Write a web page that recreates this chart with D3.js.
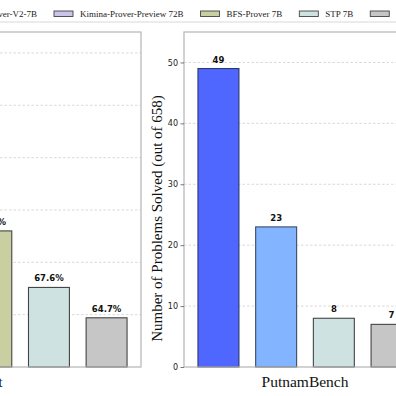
<!DOCTYPE html>
<html><head><meta charset="utf-8">
<script src="https://cdn.jsdelivr.net/npm/d3@7"></script>
<style>html,body{margin:0;padding:0;background:#fff;overflow:hidden}</style>
</head><body><svg id="c" width="396" height="396"></svg>
<script>
const models = ["Ours", "DeepSeek-Prover-V2-7B", "Kimina-Prover-Preview 72B", "BFS-Prover 7B", "STP 7B", "Goedel-Prover-SFT"];
const colors = ["#4f66ff", "#82b4ff", "#c8c5e8", "#c9cfa0", "#cee2e2", "#c6c6c6"];
const edges  = ["#2b376e", "#3a4a66", "#444", "#444", "#444", "#444"];
// miniF2F (percent)
const minif2fModels = ["Ours", "DeepSeek-Prover-V2-7B", "Kimina-Prover-Preview 72B", "BFS-Prover 7B", "STP 7B", "Goedel-Prover-SFT"];
const minif2fValues = [85.0, 82.0, 80.7, 73.0, 67.6, 64.7];
const minif2fTicks = [60, 65, 70, 75, 80, 85, 90];
// PutnamBench (solved out of 658)
const putnamModels = ["Ours", "DeepSeek-Prover-V2-7B", "STP 7B", "Goedel-Prover-SFT"];
const putnamValues = [49, 23, 8, 7];
const putnamTicks = [0, 10, 20, 30, 40, 50];

const svg = d3.select("#c");
const serif = "'Liberation Serif','Times New Roman',serif";
const sans = "'DejaVu Sans',sans-serif";
const plotTop = 32, plotBottom = 367;

function panel(x0, x1, cats, vals, yDomain, ticks, xlabel, ylabel, fmt, showAxis) {
  const g = svg.append("g");
  const x = d3.scaleBand().domain(cats).range([x0, x1]).paddingInner(0.29).paddingOuter(0.242);
  const y = d3.scaleLinear().domain(yDomain).range([plotBottom, plotTop]);
  g.selectAll("line.grid").data(ticks.filter(t => t > yDomain[0])).join("line")
    .attr("x1", x0).attr("x2", x1).attr("y1", d => y(d)).attr("y2", d => y(d))
    .attr("stroke", "#cfcfcf").attr("stroke-width", 0.8).attr("stroke-dasharray", "2.5,2");
  g.selectAll("rect.bar").data(cats).join("rect")
    .attr("x", d => x(d)).attr("width", x.bandwidth())
    .attr("y", (d, i) => y(vals[i])).attr("height", (d, i) => plotBottom - y(vals[i]))
    .attr("fill", d => colors[models.indexOf(d)])
    .attr("stroke", d => edges[models.indexOf(d)]).attr("stroke-width", 1.1);
  g.selectAll("text.lbl").data(cats).join("text")
    .attr("x", d => x(d) + x.bandwidth() / 2).attr("y", (d, i) => y(vals[i]) - 6)
    .attr("text-anchor", "middle").attr("font-family", sans).attr("font-weight", "bold")
    .attr("font-size", "8.5px").attr("fill", "#111").text((d, i) => fmt(vals[i]));
  g.append("rect").attr("x", x0).attr("y", plotTop).attr("width", x1 - x0).attr("height", plotBottom - plotTop)
    .attr("fill", "none").attr("stroke", "#b5b5b5").attr("stroke-width", 1.2);
  if (showAxis) {
    const ax = g.append("g").attr("transform", `translate(${x0},0)`)
      .call(d3.axisLeft(y).tickValues(ticks).tickSize(3.5).tickPadding(2.5).tickFormat(d => d));
    ax.select(".domain").remove();
    ax.selectAll(".tick line").attr("stroke", "#555").attr("stroke-width", 0.8);
    ax.selectAll(".tick text").attr("font-family", sans).attr("font-size", "8px").attr("fill", "#222");
    g.append("text").attr("transform", `translate(${x0 - 22},${(plotTop + plotBottom) / 2 + 19}) rotate(-90)`)
      .attr("text-anchor", "middle").attr("font-family", serif).attr("font-size", "15px")
      .attr("fill", "#111").text(ylabel);
  }
  g.append("text").attr("x", (x0 + x1) / 2).attr("y", 387).attr("text-anchor", "middle")
    .attr("font-family", serif).attr("font-size", "15.5px").attr("fill", "#111").text(xlabel);
}

panel(-216, 141, minif2fModels, minif2fValues, [60, 92], minif2fTicks, "miniF2F-test",
      "Pass Rate (%)", v => v.toFixed(1) + "%", false);
panel(184, 426, putnamModels, putnamValues, [0, 55], putnamTicks, "PutnamBench",
      "Number of Problems Solved (out of 658)", v => v, true);

const lg = svg.append("g");
lg.append("rect").attr("x", -260).attr("y", -8).attr("width", 700).attr("height", 30)
  .attr("fill", "#fff").attr("stroke", "#d8d8d8").attr("stroke-width", 1);
let cx = 0;
const pos = [];
models.forEach((m, i) => {
  const t = lg.append("text").attr("font-family", serif).attr("font-size", "9px").attr("fill", "#222")
    .attr("y", 17).text(m);
  const w = t.node().getComputedTextLength();
  pos.push({t, bx: cx, tx: cx + 26, i});
  cx += 26 + w + 17;
});
const shift = 54 - pos[2].bx;
pos.forEach(p => {
  lg.append("rect").attr("x", p.bx + shift).attr("y", 11).attr("width", 19).attr("height", 5.5)
    .attr("fill", colors[p.i]).attr("stroke", edges[p.i]).attr("stroke-width", 0.9);
  p.t.attr("x", p.tx + shift);
});
</script></body></html>
